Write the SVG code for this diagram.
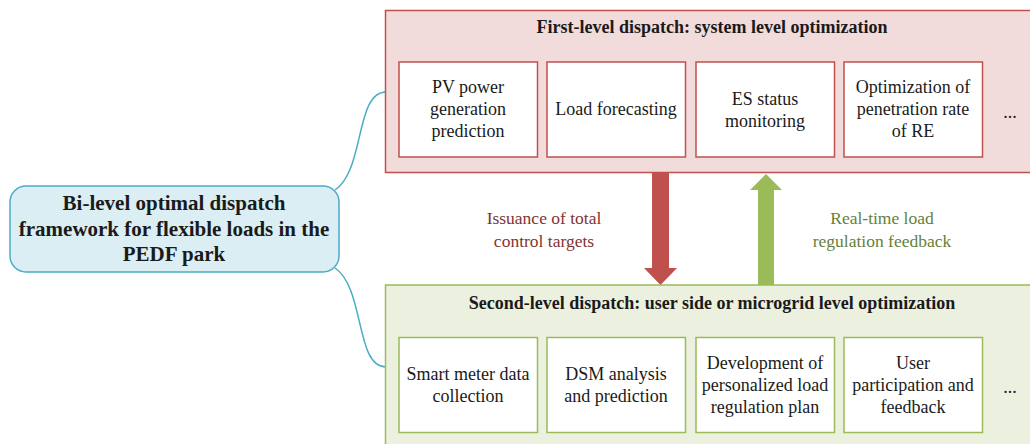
<svg xmlns="http://www.w3.org/2000/svg" width="1030" height="444" viewBox="0 0 1030 444">
<style>
text{fill:#1a1a1a;text-anchor:middle}
.t{font-size:18px}
.l{font-size:17.5px}
.h{font-size:18px;font-weight:bold}
.root{font-size:21px;font-weight:bold}
.rbox{fill:#fff;stroke:#C0504D;stroke-width:1.5}
.gbox{fill:#fff;stroke:#9BBB59;stroke-width:1.5}
.conn{fill:none;stroke:#4BACC6;stroke-width:1.5}
</style>
<rect width="1030" height="444" fill="#fff"/>
<g font-family="'Liberation Serif', 'DejaVu Serif', serif">
<g id="connectors">
<path class="conn" d="M335,190 C365,170 355,92 386,92"/>
<path class="conn" d="M335,268 C365,288 355,367 386,367"/>
<path d="M652,172 H669 V268 H677 L660.5,285 L644,268 H652 Z" fill="#C0504D"/>
<path d="M758,285 H774 V190 H782 L766,174 L750,190 H758 Z" fill="#9BBB59"/>
<text class="l" x="544" y="224" style="fill:#7F3430">Issuance of total</text>
<text class="l" x="544" y="246.5" style="fill:#7F3430">control targets</text>
<text class="l" x="882" y="224" style="fill:#66803A">Real-time load</text>
<text class="l" x="882" y="246.5" style="fill:#66803A">regulation feedback</text>
</g>
<g id="root">
<rect x="10" y="186" width="329" height="86" rx="16" fill="#DAEEF3" stroke="#4BACC6" stroke-width="1.5"/>
<text class="root" x="174" y="210">Bi-level optimal dispatch</text>
<text class="root" x="174" y="236">framework for flexible loads in the</text>
<text class="root" x="174" y="261">PEDF park</text>
</g>
<g id="first-level">
<rect x="385.5" y="10.5" width="660" height="162" fill="#F2DCDB" stroke="#C0504D" stroke-width="1.5"/>
<text class="h" x="712" y="33">First-level dispatch: system level optimization</text>
</g>
<g id="pv">
<rect class="rbox" x="399" y="62" width="138.5" height="95"/>
<text class="t" x="468" y="93">PV power</text>
<text class="t" x="468" y="115">generation</text>
<text class="t" x="468" y="137">prediction</text>
</g>
<g id="load">
<rect class="rbox" x="547" y="62" width="138.5" height="95"/>
<text class="t" x="616" y="115">Load forecasting</text>
</g>
<g id="es">
<rect class="rbox" x="696" y="62" width="138.5" height="95"/>
<text class="t" x="765" y="105">ES status</text>
<text class="t" x="765" y="127">monitoring</text>
</g>
<g id="re">
<rect class="rbox" x="844" y="62" width="138.5" height="95"/>
<text class="t" x="913" y="93">Optimization of</text>
<text class="t" x="913" y="115">penetration rate</text>
<text class="t" x="913" y="137">of RE</text>
</g>
<text class="t" x="1010" y="118">...</text>
<g id="second-level">
<rect x="385.5" y="285" width="660" height="170" fill="#EBF1DE" stroke="#9BBB59" stroke-width="1.5"/>
<text class="h" x="712" y="309">Second-level dispatch: user side or microgrid level optimization</text>
</g>
<g id="smart">
<rect class="gbox" x="399" y="337.5" width="138.5" height="95"/>
<text class="t" x="468" y="380">Smart meter data</text>
<text class="t" x="468" y="402">collection</text>
</g>
<g id="dsm">
<rect class="gbox" x="547" y="337.5" width="138.5" height="95"/>
<text class="t" x="616" y="380">DSM analysis</text>
<text class="t" x="616" y="402">and prediction</text>
</g>
<g id="plan">
<rect class="gbox" x="696" y="337.5" width="138.5" height="95"/>
<text class="t" x="765" y="369">Development of</text>
<text class="t" x="765" y="391">personalized load</text>
<text class="t" x="765" y="413">regulation plan</text>
</g>
<g id="user">
<rect class="gbox" x="844" y="337.5" width="138.5" height="95"/>
<text class="t" x="913" y="369">User</text>
<text class="t" x="913" y="391">participation and</text>
<text class="t" x="913" y="413">feedback</text>
</g>
<text class="t" x="1010" y="393">...</text>
</g>
</svg>
